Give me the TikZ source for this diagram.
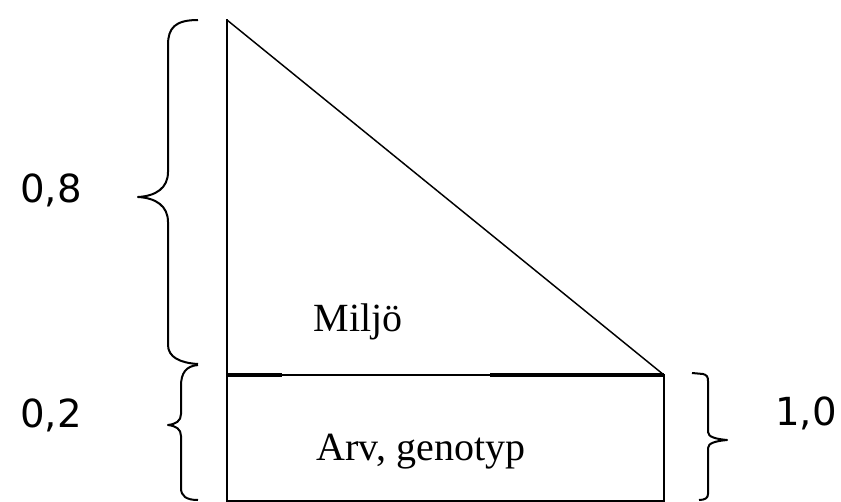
\documentclass[tikz,border=0pt]{standalone}
\usepackage{fontspec}
\setmainfont{Liberation Serif}
\newfontfamily\digitfont{DejaVu Sans}
\begin{document}
\begin{tikzpicture}[x=0.75pt,y=-0.75pt,
  edge/.style={line width=1.5pt,line cap=rect},
  hyp/.style={line width=1.1pt},
  bracepath/.style={line width=1.5pt,line join=round},
  lbl/.style={font=\fontsize{30}{34}\selectfont,inner sep=0pt},
  num/.style={font=\digitfont\fontsize{29}{33}\selectfont,inner sep=0pt}]
\useasboundingbox (0,0) rectangle (841,502);
% corners
\coordinate (apex) at (227,20);
\coordinate (ml) at (227,375);
\coordinate (mr) at (664,375);
\coordinate (bl) at (227,501);
\coordinate (br) at (664,501);
% figure
\draw[edge] (apex) -- (bl);
\draw[hyp] (apex) -- (mr);
\draw[line width=1.6pt] (ml) -- (mr);
\draw[line width=3.2pt] (ml) -- ++(55,0);
\draw[line width=3.2pt] (mr) -- ++(-174,0);
\draw[edge] (mr) -- (br);
\draw[edge] (bl) -- (br);
% braces
\draw[bracepath] (198,20) .. controls (175,20) and (168,28) .. (168,45) -- (168,172)
  .. controls (168,188) and (156,196) .. (138,197)
  .. controls (156,198) and (168,206) .. (168,222) -- (168,345)
  .. controls (168,357) and (180,363) .. (198,364);
\draw[bracepath] (198,365) .. controls (186,366) and (181,373) .. (181,386) -- (181,414)
  .. controls (181,421) and (176,424) .. (168,425)
  .. controls (176,426) and (181,429) .. (181,436) -- (181,488)
  .. controls (181,496) and (186,500) .. (198,500);
\draw[bracepath] (692,373) -- (703,374) .. controls (707,375) and (708,377) .. (708,381) -- (708,432)
  .. controls (708,437) and (716,439) .. (727,440)
  .. controls (716,441) and (708,443) .. (708,448) -- (708,494)
  .. controls (708,498) and (705,500) .. (699,500);
% labels
\node[num] (n08) at (51,190) {0,8};
\node[num] (n02) at (51,415) {0,2};
\node[num] (n10) at (806,413) {1,0};
\node[lbl] (milj) at (358,322) {Miljö};
\node[lbl] (arv) at (421,452) {Arv, genotyp};
\end{tikzpicture}
\end{document}
